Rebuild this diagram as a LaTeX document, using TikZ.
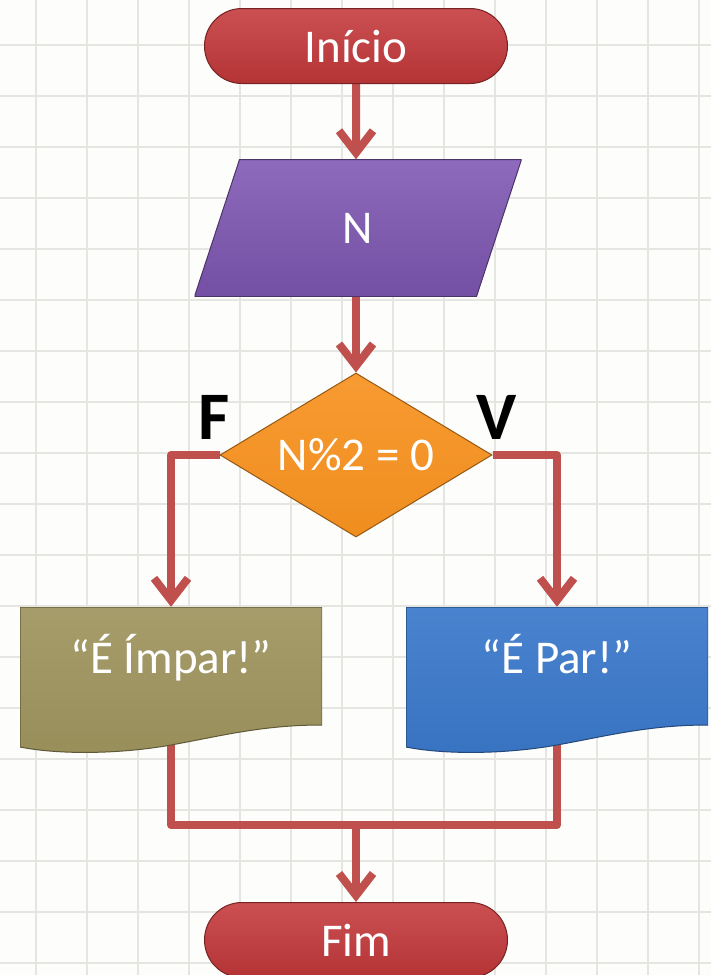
\documentclass[tikz,border=0pt]{standalone}
\usepackage{fontspec}
\setmainfont{Carlito}
\usetikzlibrary{positioning,arrows.meta,shapes.geometric,shapes.misc,backgrounds}
\definecolor{termred}{RGB}{196,56,58}
\definecolor{inputpurple}{RGB}{126,86,178}
\definecolor{decorange}{RGB}{247,146,32}
\definecolor{oddolive}{RGB}{158,148,94}
\definecolor{evenblue}{RGB}{58,120,202}
\definecolor{flowred}{RGB}{192,80,77}
\definecolor{gridgray}{RGB}{229,229,226}
\definecolor{paper}{RGB}{253,253,251}
\newcommand{\boxfont}{\fontsize{47pt}{56pt}\selectfont}
\newcommand{\labelfont}{\fontsize{68pt}{76pt}\selectfont\bfseries}
\tikzset{
    grid line/.style={gridgray, line width=1.2pt},
    terminator/.style={rounded rectangle, draw=termred!60!black, line width=1pt, top color=termred!88!white, bottom color=termred!92!black, minimum width=303pt, minimum height=75pt, inner sep=0pt, text=white, font=\boxfont},
    input box/.style={rectangle, minimum width=327pt, minimum height=137pt, inner sep=0pt, text=white, font=\boxfont,
        path picture={
            \shade[top color=inputpurple!88!white, bottom color=inputpurple!92!black, draw=inputpurple!60!black, line width=1pt]
                ([xshift=45pt]path picture bounding box.north west) -- (path picture bounding box.north east)
                -- ([xshift=-45pt]path picture bounding box.south east) -- (path picture bounding box.south west)
                -- cycle;
        }},
    decision/.style={diamond, shape aspect=1.66, draw=decorange!60!black, line width=1pt, top color=decorange!92!white, bottom color=decorange!97!black, minimum width=272pt, minimum height=164pt, inner sep=0pt, text=white, font=\boxfont},
    output doc/.style={rectangle, minimum width=302pt, minimum height=146pt, inner sep=0pt, text height=31pt, text depth=45pt, text=white, font=\boxfont,
        path picture={
            \shade[top color=#1!92!white, bottom color=#1!96!black, draw=#1!60!black, line width=1pt]
                (path picture bounding box.north west) -- (path picture bounding box.north east)
                -- ++(0pt,-118pt)
                .. controls +(-60pt,0pt) and +(50pt,9pt) .. ++(-151pt,-20pt)
                .. controls +(-50pt,-9pt) and +(40pt,-8pt) .. ++(-151pt,-2pt)
                -- cycle;
        }},
    branch label/.style={inner sep=0pt, text=black, font=\labelfont},
    flow/.style={flowred, line width=8pt, line join=round},
    flow arrow/.style={flow, -{Straight Barb[length=22pt, width=34pt]}}
}

\begin{document}
\begin{tikzpicture}[x=1pt, y=-1pt]
    \useasboundingbox (0,0) rectangle (711,975);

    % Grid paper
    \begin{scope}[on background layer]
        \fill[paper] (0,0) rectangle (711,975);
        \foreach \gx in {36,87,...,711} \draw[grid line] (\gx,0) -- (\gx,975);
        \foreach \gy in {45,96,...,975} \draw[grid line] (0,\gy) -- (711,\gy);
    \end{scope}

    % Start and input
    \node[terminator] (inicio) at (356,46) {Início};
    \node[input box] (n) at (358,228) {N};

    % Decision
    \node[decision] (test) at (356,455) {N\%2 = 0};
    \node[branch label, above left=15pt and -10pt of test.west] (f) {F};
    \node[branch label, above right=15pt and -16pt of test.east] (v) {V};

    % Outputs
    \node[output doc=oddolive] (impar) at (171,680) {“É Ímpar!”};
    \node[output doc=evenblue] (par) at (557,680) {“É Par!”};

    % End
    \node[terminator] (fim) at (356,940) {Fim};
    \coordinate (merge) at (356,825);

    % Connectors
    \begin{scope}[on background layer]
        \draw[flow arrow] (inicio) -- (inicio |- n.north);
        \draw[flow arrow] (inicio |- n.south) -- (test);
        \draw[flow arrow] (test.west) -| (impar.north);
        \draw[flow arrow] (test.east) -| (par.north);
        \draw[flow] (impar.center) |- (merge) -| (par.center);
        \draw[flow arrow] (merge) -- (fim);
    \end{scope}
\end{tikzpicture}
\end{document}
